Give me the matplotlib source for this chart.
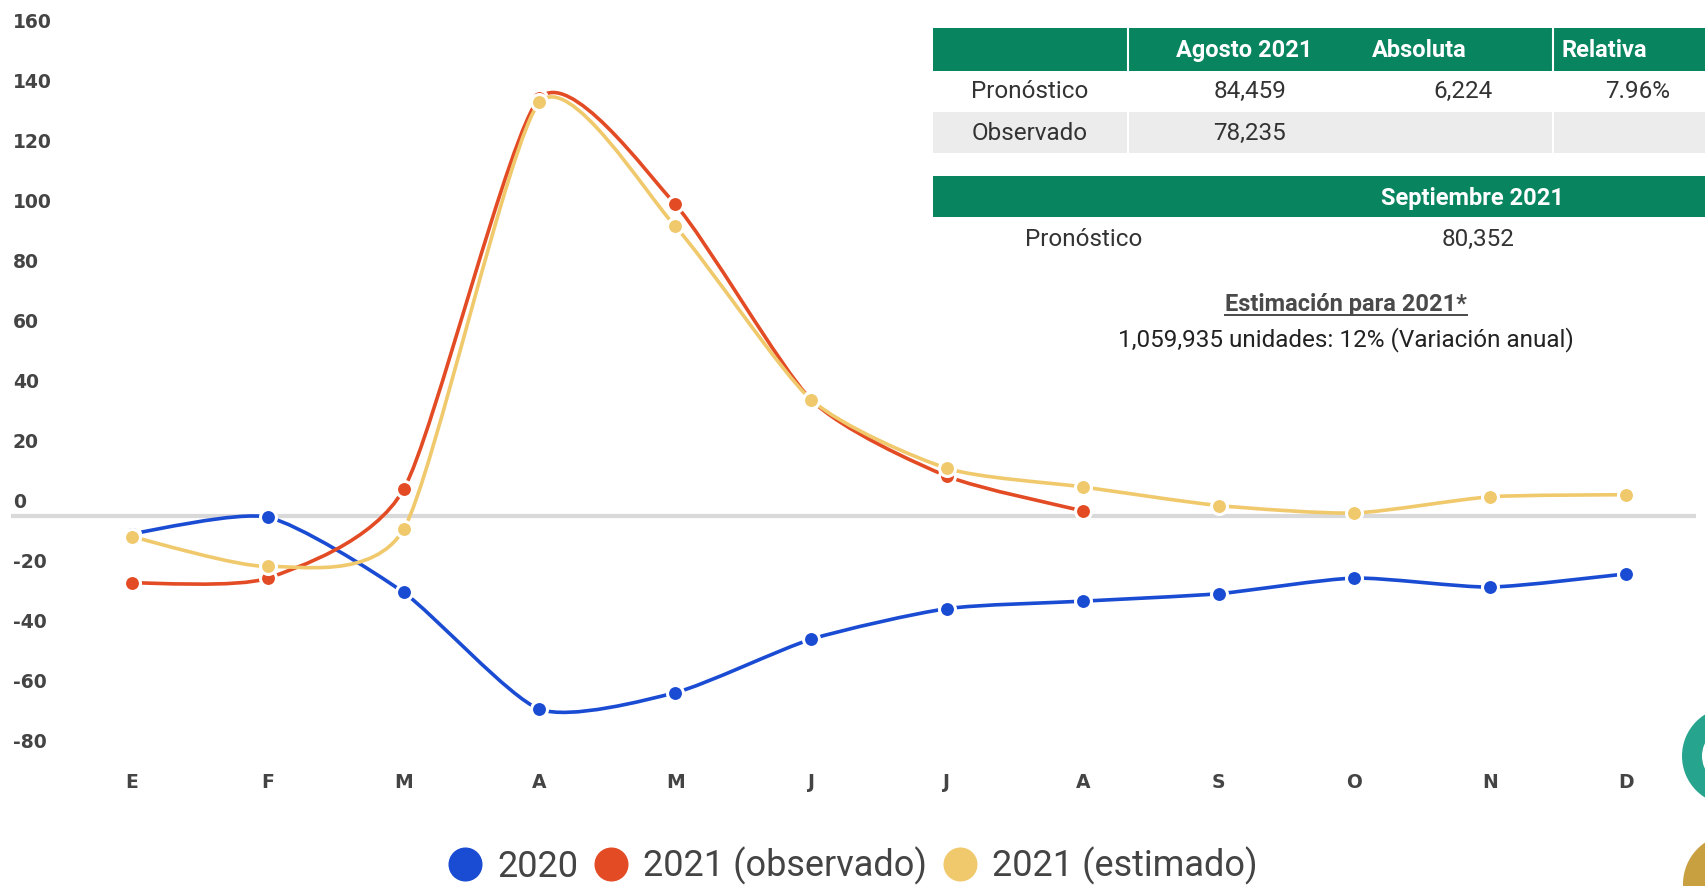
import numpy as np
import matplotlib
matplotlib.use("Agg")
import matplotlib.pyplot as plt
from matplotlib.path import Path
from matplotlib.patches import PathPatch, Rectangle, Wedge, Circle
from matplotlib.lines import Line2D
from matplotlib.font_manager import FontProperties
import matplotlib.transforms as mtransforms

# ---------------- data ----------------
months = ["E", "F", "M", "A", "M", "J", "J", "A", "S", "O", "N", "D"]
y_ticks = [160, 140, 120, 100, 80, 60, 40, 20, 0, -20, -40, -60, -80]

series_2020 = [-5.8, -0.3, -25.4, -64.3, -58.8, -41.0, -30.8, -28.3, -25.8, -20.6, -23.6, -19.2]
series_2021_obs = [-22.2, -20.6, 9.0, 139.4, 104.0, 38.9, 13.4, 1.8]
series_2021_est = [-6.8, -16.7, -4.3, 138.0, 96.7, 38.9, 16.0, 9.8, 3.6, 1.1, 6.5, 7.2]

legend_labels = ["2020", "2021 (observado)", "2021 (estimado)"]

table1_header = ["", "Agosto 2021", "Absoluta", "Relativa"]
table1_row1 = ["Pronóstico", "84,459", "6,224", "7.96%"]
table1_row2 = ["Observado", "78,235", "", ""]
table2_header = "Septiembre 2021"
table2_row = ["Pronóstico", "80,352"]
estimate_title = "Estimación para 2021*"
estimate_text = "1,059,935 unidades: 12% (Variación anual)"

# ---------------- style ----------------
W, H = 1706, 886
C_BLUE = "#1a4bd3"
C_RED = "#e34b25"
C_YEL = "#f0c96c"
C_GREEN = "#08845f"
C_GRAY_ROW = "#ececec"
C_TXT = "#333333"
TFONT = ["Roboto", "DejaVu Sans"]

fig = plt.figure(figsize=(W / 100, H / 100), dpi=100)
fig.patch.set_facecolor("white")

# main axes: x from pixel 11 to 1696; y: 160 at px 36.5, -80 at px 756.2
x_first_px, x_last_px = 132, 1626
step = (x_last_px - x_first_px) / 11
ax_left_px, ax_right_px = 11, 1696
ax_top_px, ax_bot_px = 36.5, 756.2
ax = fig.add_axes([ax_left_px / W, 1 - ax_bot_px / H,
                   (ax_right_px - ax_left_px) / W, (ax_bot_px - ax_top_px) / H])
ax.set_xlim(-(x_first_px - ax_left_px) / step, 11 + (ax_right_px - x_last_px) / step)
ax.set_ylim(-80, 160)
for s in ax.spines.values():
    s.set_visible(False)
ax.set_yticks([])
ax.axhline(0, color="#d9d9d9", lw=3, zorder=1)


def smooth_path(xs, ys, k=0.11):
    pts = np.column_stack([xs, ys]).astype(float)
    n = len(pts)
    verts = [pts[0]]
    codes = [Path.MOVETO]
    for i in range(n - 1):
        p0 = pts[i - 1] if i > 0 else pts[i]
        p1 = pts[i]
        p2 = pts[i + 1]
        p3 = pts[i + 2] if i + 2 < n else pts[i + 1]
        c1 = p1 + (p2 - p0) * k
        c2 = p2 - (p3 - p1) * k
        verts += [c1, c2, p2]
        codes += [Path.CURVE4] * 3
    return Path(verts, codes)


for vals, col, z in [(series_2020, C_BLUE, 3), (series_2021_obs, C_RED, 4), (series_2021_est, C_YEL, 5)]:
    xs = np.arange(len(vals))
    ax.add_patch(PathPatch(smooth_path(xs, vals), facecolor="none", edgecolor=col,
                           lw=2.6, zorder=z, capstyle="round"))
    ax.plot(xs, vals, linestyle="none", marker="o", ms=11.5, mfc=col, mec="white",
            mew=2.2, zorder=z + 0.5)

# x tick labels
ax.set_xticks(range(12))
ax.set_xticklabels(months, fontsize=13.5, fontweight="bold", color="#444444",
                   family="DejaVu Sans")
ax.tick_params(axis="x", length=0, pad=12)

# y labels above gridline positions
trans = mtransforms.blended_transform_factory(fig.transFigure, ax.transData)
trans = mtransforms.offset_copy(trans, fig=fig, x=0, y=14, units="dots")
for v in y_ticks:
    ax.text(13 / W, v, str(v), transform=trans, ha="left", va="center",
            fontsize=13.5, fontweight="bold", color="#444444", family="DejaVu Sans",
            clip_on=False)

# legend
handles = [Line2D([], [], linestyle="none", marker="o", ms=23.5, mfc=c, mec=c)
           for c in (C_BLUE, C_RED, C_YEL)]
fig.legend(handles, legend_labels, loc="center", bbox_to_anchor=(0.5, 1 - 866 / H),
           ncol=3, frameon=False,
           prop=FontProperties(family=TFONT, size=26),
           labelcolor="#444444", handlelength=0.9, handletextpad=0.45,
           columnspacing=0.45, borderaxespad=0)

# ---------------- overlay for tables ----------------
ov = fig.add_axes([0, 0, 1, 1], zorder=10)
ov.set_xlim(0, W)
ov.set_ylim(H, 0)
ov.axis("off")

tx0, tx1 = 933, 1712
div1, div2 = 1128, 1553
# table 1
ov.add_patch(Rectangle((tx0, 28), tx1 - tx0, 43, color=C_GREEN, lw=0))
ov.add_patch(Rectangle((tx0, 112), tx1 - tx0, 41, color=C_GRAY_ROW, lw=0))
for dx in (div1, div2):
    ov.plot([dx, dx], [28, 71], color="white", lw=1.5)
    ov.plot([dx, dx], [112, 153], color="white", lw=1.5)

fs = 17.5
hfs = 17
hw = "bold"
ov.text(1244, 50, table1_header[1], ha="center", va="center", color="white",
        fontsize=hfs, fontweight=hw, family=TFONT)
ov.text(1419, 50, table1_header[2], ha="center", va="center", color="white",
        fontsize=hfs, fontweight=hw, family=TFONT)
ov.text(1562, 50, table1_header[3], ha="left", va="center", color="white",
        fontsize=hfs, fontweight=hw, family=TFONT)
col_x = [1030, 1250, 1463, 1638]
for row, yy in ((table1_row1, 91), (table1_row2, 133)):
    for cx, t in zip(col_x, row):
        if t:
            ov.text(cx, yy, t, ha="center", va="center", color=C_TXT, fontsize=fs,
                    family=TFONT)

# table 2
ov.add_patch(Rectangle((tx0, 176), tx1 - tx0, 41, color=C_GREEN, lw=0))
ov.text(1472, 198, table2_header, ha="center", va="center", color="white",
        fontsize=hfs, fontweight=hw, family=TFONT)
ov.text(1084, 239, table2_row[0], ha="center", va="center", color=C_TXT, fontsize=fs,
        family=TFONT)
ov.text(1478, 239, table2_row[1], ha="center", va="center", color=C_TXT, fontsize=fs,
        family=TFONT)

t_title = ov.text(1346, 304, estimate_title, ha="center", va="center", color="#4a4a4a",
                  fontsize=hfs, fontweight=hw, family=TFONT)
ov.text(1346, 340, estimate_text, ha="center", va="center", color="#222222",
        fontsize=fs, family=TFONT)

# decorative logo fragments at the right edge
ov.add_patch(Wedge((1731, 756), 49, 0, 360, width=20, color="#27a48e", lw=0))
ov.add_patch(Circle((1733, 884), 50, color="#c8a040", lw=0))

fig.canvas.draw()
bb = t_title.get_window_extent()
inv = ov.transData.inverted()
(x0, y0), (x1, y1) = inv.transform([[bb.x0, bb.y0], [bb.x1, bb.y0]])
ov.plot([x0, x1], [y0 - 1, y1 - 1], color="#4a4a4a", lw=1.4)

fig.savefig("out.png", dpi=100, facecolor="white")
